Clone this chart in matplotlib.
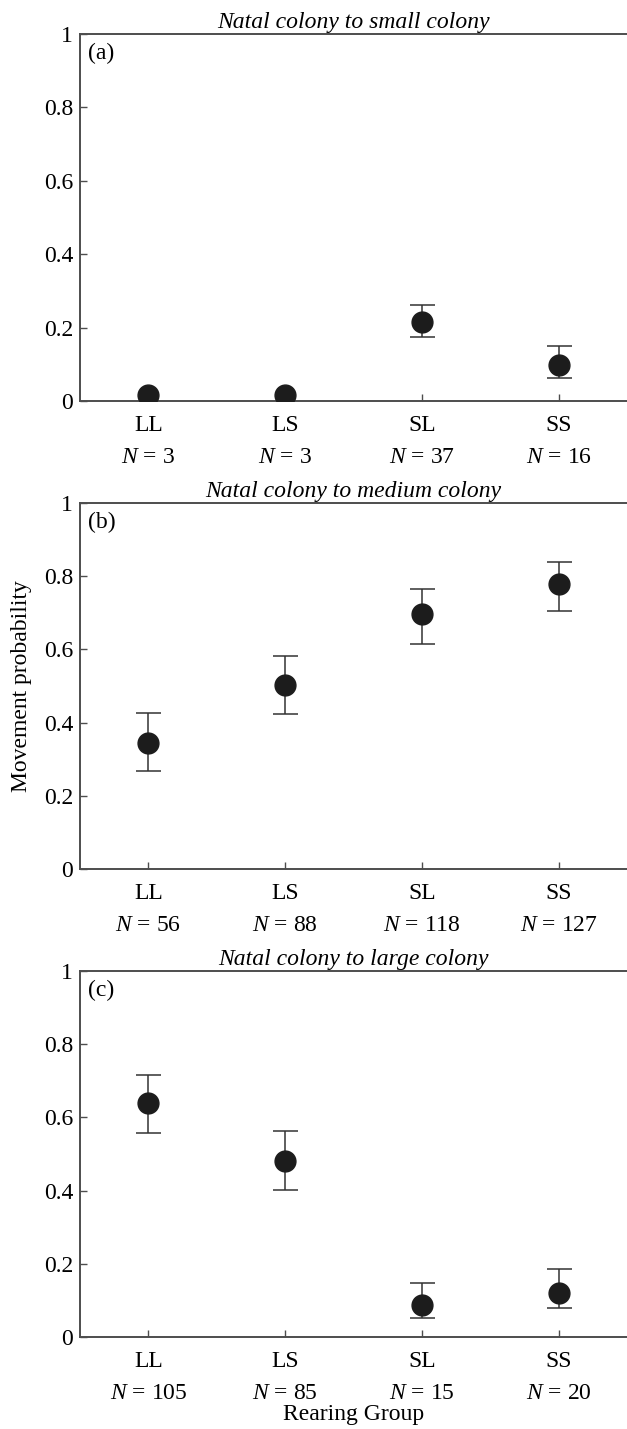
import numpy as np
import matplotlib
matplotlib.use("Agg")
import matplotlib.pyplot as plt

plt.rcParams['font.family'] = ['Liberation Serif', 'DejaVu Serif']
plt.rcParams['mathtext.fontset'] = 'custom'
plt.rcParams['mathtext.rm'] = 'Liberation Serif'
plt.rcParams['mathtext.it'] = 'Liberation Serif:italic'

# %% data
groups = ['LL', 'LS', 'SL', 'SS']
panel_tags = ['(a)', '(b)', '(c)']
titles = ['Natal colony to small colony',
          'Natal colony to medium colony',
          'Natal colony to large colony']

# movement probability, lower and upper error bar ends
small_p = [0.016, 0.016, 0.216, 0.098]
small_lo = [np.nan, np.nan, 0.175, 0.062]
small_hi = [np.nan, np.nan, 0.262, 0.150]
small_n = [3, 3, 37, 16]

medium_p = [0.343, 0.503, 0.696, 0.779]
medium_lo = [0.268, 0.423, 0.616, 0.704]
medium_hi = [0.425, 0.583, 0.765, 0.839]
medium_n = [56, 88, 118, 127]

large_p = [0.639, 0.480, 0.088, 0.121]
large_lo = [0.557, 0.403, 0.052, 0.079]
large_hi = [0.715, 0.562, 0.147, 0.187]
large_n = [105, 85, 15, 20]

yticks = [0, 0.2, 0.4, 0.6, 0.8, 1]
ytick_labels = ['0', '0.2', '0.4', '0.6', '0.8', '1']

panels = [(small_p, small_lo, small_hi, small_n),
          (medium_p, medium_lo, medium_hi, medium_n),
          (large_p, large_lo, large_hi, large_n)]

# %% figure
W, H = 627, 1429
fig = plt.figure(figsize=(W / 100, H / 100), dpi=100)

# (top, bottom) of each axes in pixels
boxes = [(34, 401), (503, 869), (971, 1337)]
left_px = 80

x = np.arange(1, 5)
fs = 17
spine_col = '#4d4d4d'

for i, (p, lo, hi, n) in enumerate(panels):
    top, bot = boxes[i]
    ax = fig.add_axes([left_px / W, 1 - bot / H, (W - left_px) / W, (bot - top) / H])
    p = np.array(p)
    err = np.vstack([p - np.array(lo), np.array(hi) - p])
    ax.errorbar(x, p, yerr=err, fmt='none', ecolor='#333333', elinewidth=1.1,
                capsize=9, capthick=1.1, zorder=2)
    ax.plot(x, p, 'o', ms=15, color='#1c1c1c', mec='#1c1c1c', zorder=3)

    ax.set_xlim(0.5, 4.5)
    ax.set_ylim(0, 1)
    ax.set_xticks(x)
    ax.set_xticklabels(groups, fontsize=fs)
    ax.set_yticks(yticks)
    ax.set_yticklabels(ytick_labels, fontsize=fs)
    ax.tick_params(direction='in', length=5, width=1, color=spine_col)
    ax.tick_params(axis='x', pad=10)
    ax.tick_params(axis='y', pad=5)
    ax.spines['right'].set_visible(False)
    for s in ['left', 'bottom', 'top']:
        ax.spines[s].set_color(spine_col)
        ax.spines[s].set_linewidth(1.4)

    ax.set_title(titles[i], fontsize=fs, style='italic', pad=4)
    ax.text(0.015, 0.975, panel_tags[i], transform=ax.transAxes,
            fontsize=fs, ha='left', va='top')

    for xi, ni in zip(x, n):
        ax.annotate(r'$N$ = %d' % ni, xy=(xi, 0), xycoords=('data', 'axes fraction'),
                    xytext=(0, -41), textcoords='offset points',
                    ha='center', va='center', fontsize=fs)

    if i == 2:
        ax.annotate('Rearing Group', xy=(0.5, 0), xycoords='axes fraction',
                    xytext=(0, -56), textcoords='offset points',
                    ha='center', va='center', fontsize=fs)

fig.text(22 / W, 1 - 686 / H, 'Movement probability', rotation=90,
         ha='center', va='center', fontsize=fs)

fig.savefig('out.png', dpi=100)
